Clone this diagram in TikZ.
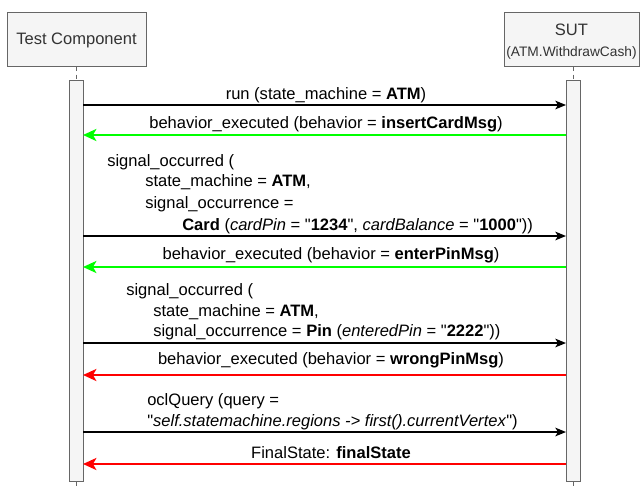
\documentclass[tikz,border=0pt]{standalone}
\usepackage{fontspec}
\setmainfont{Liberation Sans}
\usetikzlibrary{arrows.meta}
\definecolor{boxfill}{HTML}{F5F5F5}
\definecolor{boxline}{HTML}{666666}
\definecolor{boxtext}{HTML}{333333}
\definecolor{okgreen}{HTML}{00FF00}
\definecolor{errred}{HTML}{FF0000}
\newcommand{\dq}{\textquotedbl}
\begin{document}
\begin{tikzpicture}[x=0.75pt,y=-0.75pt,
  font=\fontsize{12.4}{15.75}\selectfont,
  actor/.style={draw=boxline,fill=boxfill,line width=0.75pt,text=boxtext,inner sep=0pt,align=center},
  bar/.style={draw=boxline,fill=boxfill,line width=0.75pt,minimum width=10.5pt,minimum height=300.75pt,inner sep=0pt},
  life/.style={draw=boxline,dashed,dash pattern=on 3pt off 3pt,line width=0.75pt},
  call/.style={draw=black,line width=1pt,-{Stealth[length=8pt,width=6.5pt,inset=2pt]}},
  okret/.style={draw=okgreen,line width=2.2pt,-{Stealth[length=10pt,width=9pt,inset=2.5pt]}},
  errret/.style={draw=errred,line width=2.2pt,-{Stealth[length=10pt,width=9pt,inset=2.5pt]}},
  lbl/.style={inner sep=0pt,anchor=mid},
  lline/.style={inner sep=0pt,anchor=mid west}]
\useasboundingbox (0,0) rectangle (640,487);
% actors
\node[actor,minimum width=104.25pt,minimum height=40.5pt,text height=8.8pt,text depth=0pt] (tc) at (76.5,39) {Test Component};
\node[actor,minimum width=101.25pt,minimum height=40.5pt] (sut) at (571.5,39) {};
\node[inner sep=0pt,text=boxtext,anchor=mid] (sutname) at (571.5,31.5) {SUT};
\node[inner sep=0pt,text=boxtext,anchor=mid,font=\fontsize{10.3}{12}\selectfont] (sutsub) at (571.5,53) {(ATM.WithdrawCash)};
% activation bars
\node[bar] (lb) at (76,280.5) {};
\node[bar] (rb) at (573,280.5) {};
\coordinate (lend) at (76,487);
\coordinate (rend) at (573,487);
\draw[life] (tc.south -| lb.north) -- (lb.north);
\draw[life] (sut.south -| rb.north) -- (rb.north);
\draw[life] (lb.south) -- (lend);
\draw[life] (rb.south) -- (rend);
% message end points
\foreach \n/\y in {1/105,2/135,3/236,4/267,5/343,6/375,7/432,8/464}{
  \coordinate (l\n) at (83,\y);
  \coordinate (r\n) at (566,\y);
}
% 1
\node[lbl] (t1) at (326,95.5) {run (state\_machine = \textbf{ATM})};
\draw[call] (l1) -- (r1);
% 2
\node[lbl] (t2) at (326,124.5) {behavior\_executed (behavior = \textbf{insertCardMsg})};
\draw[okret] (r2) -- (l2);
% 3
\node[lline] (t3a) at (107,162.5) {signal\_occurred (};
\node[lline] (t3b) at (145,182.5) {state\_machine = \textbf{ATM},};
\node[lline] (t3c) at (145,204.5) {signal\_occurrence =};
\node[lline] (t3d) at (182,226.5) {\textbf{Card} (\textit{cardPin} = \dq\textbf{1234}\dq, \textit{cardBalance} = \dq\textbf{1000}\dq))};
\draw[call] (l3) -- (r3);
% 4
\node[lbl] (t4) at (331,255.5) {behavior\_executed (behavior = \textbf{enterPinMsg})};
\draw[okret] (r4) -- (l4);
% 5
\node[lline] (t5a) at (126,291.5) {signal\_occurred (};
\node[lline] (t5b) at (153,312.5) {state\_machine = \textbf{ATM},};
\node[lline] (t5c) at (153,332.5) {signal\_occurrence = \textbf{Pin} (\textit{enteredPin} = \dq\textbf{2222}\dq))};
\draw[call] (l5) -- (r5);
% 6
\node[lbl] (t6) at (331,360.5) {behavior\_executed (behavior = \textbf{wrongPinMsg})};
\draw[errret] (r6) -- (l6);
% 7
\node[lline] (t7a) at (147,401.5) {oclQuery (query =};
\node[lline] (t7b) at (147,422.5) {\dq\textit{self.statemachine.regions -> first().currentVertex}\dq)};
\draw[call] (l7) -- (r7);
% 8
\node[lbl] (t8) at (331,454.5) {FinalState: \textbf{finalState}};
\draw[errret] (r8) -- (l8);
\end{tikzpicture}
\end{document}
